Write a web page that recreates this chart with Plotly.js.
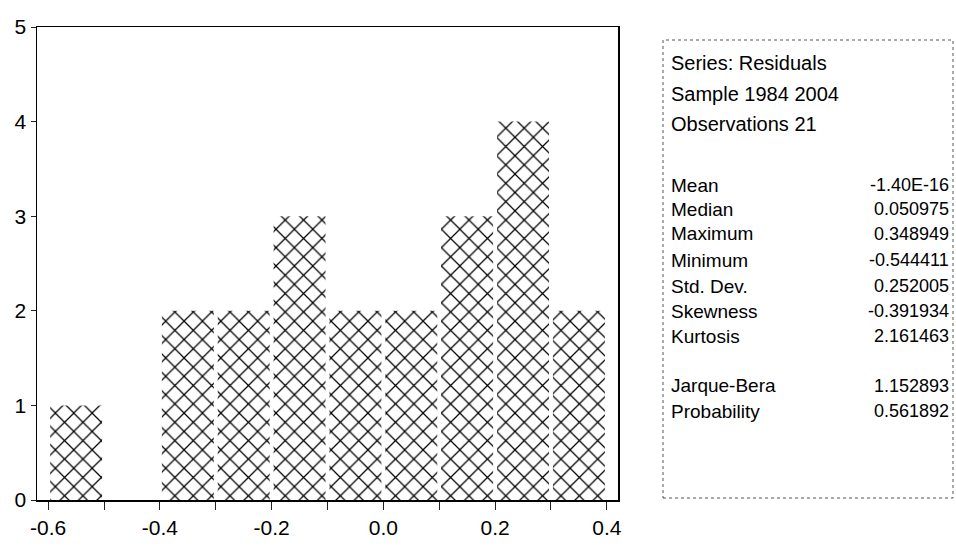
<!DOCTYPE html>
<html>
<head>
<meta charset="utf-8">
<script src="https://cdn.plot.ly/plotly-3.0.1.min.js"></script>
<style>
html,body{margin:0;padding:0;background:#fff;}
#chart{width:956px;height:556px;}
</style>
</head>
<body>
<div id="chart"></div>
<script>
// Histogram bins (centers of 0.1-wide bins) and counts
const binCenters = [-0.55, -0.45, -0.35, -0.25, -0.15, -0.05, 0.05, 0.15, 0.25, 0.35];
const counts     = [1, 0, 2, 2, 3, 2, 2, 3, 4, 2];
const xTickVals  = [-0.6, -0.4, -0.2, 0.0, 0.2, 0.4];
const xTickText  = ["-0.6", "-0.4", "-0.2", "0.0", "0.2", "0.4"];
const yTickVals  = [0, 1, 2, 3, 4, 5];

// Statistics panel
const headerLines = ["Series: Residuals", "Sample 1984 2004", "Observations 21"];
const statLabels  = ["Mean", "Median", "Maximum", "Minimum", "Std. Dev.", "Skewness", "Kurtosis", "", "Jarque-Bera", "Probability"];
const statValues  = ["-1.40E-16", "0.050975", "0.348949", "-0.544411", "0.252005", "-0.391934", "2.161463", "", "1.152893", "0.561892"];

const W = 956, H = 556;
const m = {l: 37, r: 338, t: 27, b: 56};
const pw = W - m.l - m.r, ph = H - m.t - m.b;
const px = x => (x - m.l) / pw;
const py = y => (H - m.b - y) / ph;

const font = "Liberation Sans, Arial, sans-serif";

const annotations = [];
headerLines.forEach((t, i) => {
  annotations.push({xref: 'paper', yref: 'paper', x: px(669), y: py(63 + i * 30.5),
    xanchor: 'left', yanchor: 'middle', text: t, showarrow: false,
    font: {family: font, size: 20, color: '#000'}});
});
const rowY = [185, 209, 234, 260, 286, 311, 336, 361, 386, 411];
statLabels.forEach((t, i) => {
  if (!t) return;
  annotations.push({xref: 'paper', yref: 'paper', x: px(669), y: py(rowY[i]),
    xanchor: 'left', yanchor: 'middle', text: t, showarrow: false,
    font: {family: font, size: 19, color: '#000'}});
  annotations.push({xref: 'paper', yref: 'paper', x: px(951), y: py(rowY[i]),
    xanchor: 'right', yanchor: 'middle', text: statValues[i], showarrow: false,
    font: {family: font, size: 18, color: '#000'}});
});

const data = [{
  type: 'bar',
  x: binCenters,
  y: counts,
  width: 0.093,
  marker: {
    color: 'white',
    line: {width: 0},
    pattern: {shape: 'x', fgcolor: '#000', bgcolor: 'white', size: 13, solidity: 0.18}
  },
  hoverinfo: 'x+y'
}];

const layout = {
  width: W, height: H,
  margin: m,
  paper_bgcolor: 'white', plot_bgcolor: 'white',
  showlegend: false,
  font: {family: font, color: '#000'},
  xaxis: {
    range: [-0.62, 0.42],
    tickvals: xTickVals, ticktext: xTickText,
    ticks: 'outside', ticklen: 8, tickcolor: '#222', tickwidth: 1,
    minor: {dtick: 0.1, tick0: 0, ticks: 'outside', ticklen: 8, tickcolor: '#222'},
    showgrid: false, zeroline: false,
    showline: true, linecolor: '#000', linewidth: 1.5, mirror: true,
    tickfont: {family: font, size: 21, color: '#000'}
  },
  yaxis: {
    range: [0, 5],
    tickvals: yTickVals,
    ticks: 'outside', ticklen: 5, tickcolor: '#222',
    showgrid: false, zeroline: false,
    showline: true, linecolor: '#000', linewidth: 1.5, mirror: true,
    tickfont: {family: font, size: 21, color: '#000'}
  },
  shapes: [{
    type: 'rect', xref: 'paper', yref: 'paper',
    x0: px(663), x1: px(953), y0: py(498), y1: py(40),
    line: {color: '#555', width: 1, dash: 'dot'}
  }],
  annotations: annotations
};

Plotly.newPlot('chart', data, layout, {displayModeBar: false, staticPlot: true});
</script>
</body>
</html>
